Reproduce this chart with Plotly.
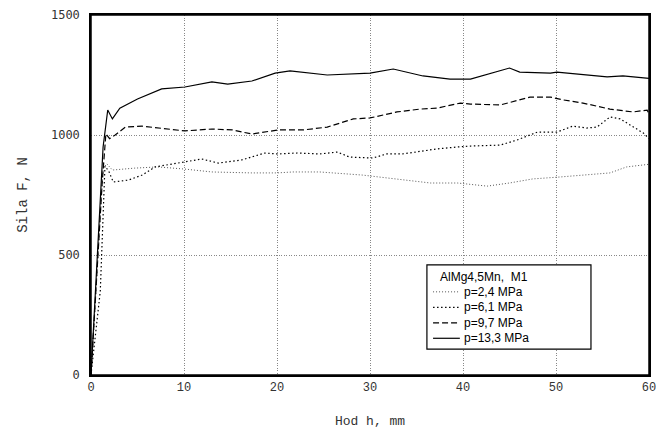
import plotly.graph_objects as go

# p = 2,4 MPa
x24 = [0, 0.8, 1.3, 1.7, 2.3, 4.7, 7.2, 10.1, 13.0, 17.3, 20.0, 21.7, 24.6, 29.2, 31.1, 33.5, 36.5, 39.4, 40.4, 42.6, 45.0, 47.5, 50.4, 54.0, 55.8, 57.6, 60.0]
y24 = [0, 560, 860, 880, 854, 862, 867, 858, 846, 842, 842, 846, 846, 833, 825, 812, 800, 800, 796, 787, 800, 817, 825, 837, 842, 867, 878]

# p = 6,1 MPa
x61 = [0, 1.0, 1.5, 1.9, 2.4, 4.0, 5.5, 6.9, 8.7, 10.1, 11.9, 13.7, 16.2, 18.7, 20.0, 22.2, 24.6, 26.5, 27.8, 30.3, 31.8, 33.5, 35.4, 37.2, 39.4, 40.8, 44.0, 45.8, 48.0, 50.1, 51.8, 53.3, 54.4, 55.8, 56.9, 58.3, 59.4, 60.0]
y61 = [0, 350, 870, 850, 804, 812, 833, 867, 879, 887, 900, 883, 896, 925, 921, 925, 921, 929, 908, 904, 921, 921, 933, 942, 950, 954, 958, 979, 1012, 1012, 1037, 1029, 1033, 1075, 1067, 1033, 1008, 985]

# p = 9,7 MPa
x97 = [0, 1.2, 1.6, 2.0, 2.6, 3.7, 5.5, 7.6, 10.1, 13.0, 15.2, 17.3, 20.1, 22.8, 25.4, 28.2, 30.0, 32.9, 35.4, 37.2, 39.7, 40.8, 44.0, 47.2, 49.4, 50.8, 52.9, 55.8, 58.3, 59.8, 60.0]
y97 = [0, 800, 1005, 985, 1000, 1033, 1037, 1029, 1017, 1025, 1021, 1004, 1021, 1021, 1033, 1067, 1071, 1096, 1108, 1112, 1133, 1129, 1125, 1158, 1158, 1146, 1133, 1108, 1096, 1104, 1088]

# p = 13,3 MPa
x133 = [0, 1.3, 1.8, 2.3, 3.1, 5.0, 7.6, 10.1, 13.0, 14.7, 17.3, 19.8, 21.4, 25.4, 30.0, 32.5, 35.7, 38.6, 40.8, 45.0, 46.1, 49.4, 50.1, 55.5, 57.2, 60.0]
y133 = [0, 950, 1104, 1067, 1112, 1150, 1192, 1200, 1221, 1212, 1225, 1258, 1267, 1250, 1258, 1275, 1246, 1233, 1233, 1279, 1262, 1258, 1262, 1242, 1246, 1236]

names = ["p=2,4 MPa", "p=6,1 MPa", "p=9,7 MPa", "p=13,3 MPa"]
legend_title = "AlMg4,5Mn,  M1"
x_ticks = [0, 10, 20, 30, 40, 50, 60]
y_ticks = [0, 500, 1000, 1500]

series = [(x24, y24), (x61, y61), (x97, y97), (x133, y133)]
styles = [
    dict(color="#555555", width=1, dash="1px,2px"),
    dict(color="black", width=1.2, dash="1.5px,2.5px"),
    dict(color="black", width=1.2, dash="6px,3px"),
    dict(color="black", width=1.2),
]

fig = go.Figure()
for (xs, ys), name, st in zip(series, names, styles):
    fig.add_trace(go.Scatter(x=xs, y=ys, mode="lines", name=name, line=st, showlegend=False))

# plot frame
fig.add_shape(type="rect", xref="paper", yref="paper", x0=0, x1=1, y0=0, y1=1,
              line=dict(color="black", width=1.5), layer="above")

# legend box (drawn to reproduce the compact legend of the reference)
fig.add_shape(type="rect", xref="paper", yref="paper",
              x0=0.602, x1=0.896, y0=0.072, y1=0.306,
              line=dict(color="black", width=1.2), fillcolor="white", layer="above")
fig.add_annotation(xref="paper", yref="paper", x=0.622, y=0.272, text=legend_title,
                   showarrow=False, xanchor="left", yanchor="middle",
                   font=dict(family="Liberation Sans", size=12, color="black"))
row_y0, row_step = 0.231, 0.043
for i, (name, st) in enumerate(zip(names, styles)):
    yy = row_y0 - i * row_step
    fig.add_shape(type="line", xref="paper", yref="paper", x0=0.613, x1=0.661, y0=yy, y1=yy,
                  line=st, layer="above")
    fig.add_annotation(xref="paper", yref="paper", x=0.664, y=yy, text=name,
                       showarrow=False, xanchor="left", yanchor="middle",
                       font=dict(family="Liberation Sans", size=12, color="black"))

fig.update_layout(
    width=656, height=437,
    margin=dict(l=91, r=7, t=15, b=62),
    plot_bgcolor="white", paper_bgcolor="white",
    showlegend=False,
    xaxis=dict(
        range=[0, 60], tickvals=x_ticks, ticktext=[str(v) for v in x_ticks],
        showgrid=True, gridcolor="#888888", griddash="1px,1.5px", gridwidth=1,
        showline=True, linecolor="black", linewidth=1.5, mirror=True,
        ticks="", zeroline=False, automargin=False, ticklabeloverflow="allow",
        tickfont=dict(family="Liberation Mono", size=12, color="#333333"),
        title=dict(text="Hod h, mm", font=dict(family="Liberation Mono", size=13, color="#333333"), standoff=22),
    ),
    yaxis=dict(
        range=[0, 1500], tickvals=y_ticks, ticktext=[str(v) for v in y_ticks],
        showgrid=True, gridcolor="#888888", griddash="1px,1.5px", gridwidth=1,
        showline=True, linecolor="black", linewidth=1.5, mirror=True,
        ticks="", zeroline=False, automargin=False, ticklabelstandoff=7,
        tickfont=dict(family="DejaVu Sans Mono", size=12, color="#333333"),
        title=dict(text="Sila F, N", font=dict(family="Liberation Mono", size=14, color="#333333"), standoff=20),
    ),
)

fig.write_html("out.html", config={"displayModeBar": False},
               post_script="document.body.style.margin='0';document.body.style.overflow='hidden';")
